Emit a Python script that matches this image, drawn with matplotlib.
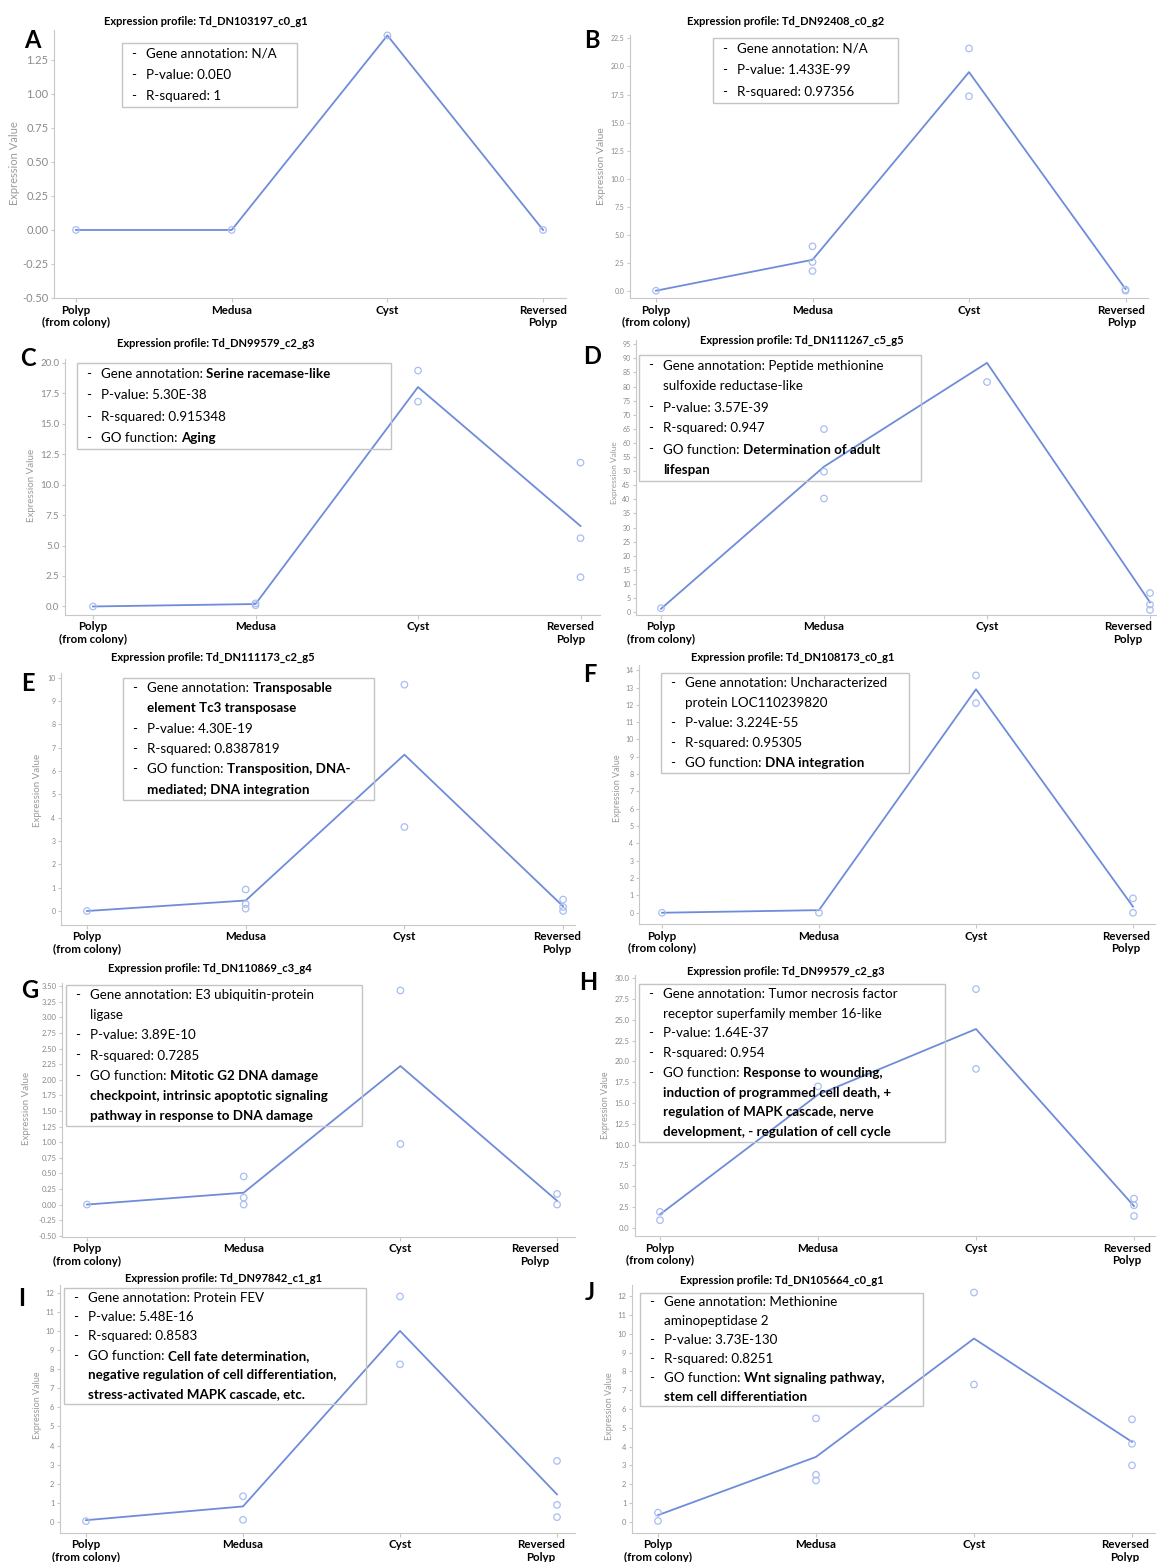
import matplotlib
matplotlib.use("Agg")
import matplotlib.pyplot as plt
from matplotlib.patches import Rectangle
from matplotlib.ticker import FormatStrFormatter, MultipleLocator
from matplotlib.transforms import ScaledTranslation

plt.rcParams['font.family'] = ['Lato', 'DejaVu Sans']
plt.rcParams['axes.unicode_minus'] = False

W, H = 1157, 1562
LINE_C = '#6f8cdb'
DOT_C = '#a9bdf2'

stages = ["Polyp\n(from colony)", "Medusa", "Cyst", "Reversed\nPolyp"]

# mean profile (line) and replicate values (open circles) per panel
mean_a = [0.0, 0.0, 1.43, 0.0]
reps_a = [[0.0], [0.0], [1.43], [0.0]]
mean_b = [0.05, 2.8, 19.5, 0.2]
reps_b = [[0.05], [4.0, 2.6, 1.8], [21.6, 17.35], [0.05, 0.15]]
mean_c = [0.0, 0.2, 18.0, 6.6]
reps_c = [[0.0], [0.25, 0.1], [19.35, 16.8], [11.8, 5.6, 2.4]]
mean_d = [1.2, 51.6, 88.4, 3.5]
reps_d = [[1.4], [64.9, 49.8, 40.3], [81.6], [6.8, 2.7, 0.8]]
mean_e = [0.0, 0.45, 6.7, 0.2]
reps_e = [[0.0], [0.92, 0.3, 0.1], [9.7, 3.6], [0.49, 0.17, 0.0]]
mean_f = [0.0, 0.15, 12.9, 0.35]
reps_f = [[0.0], [0.0], [13.7, 12.1], [0.83, 0.0]]
mean_g = [0.0, 0.19, 2.22, 0.06]
reps_g = [[0.0], [0.45, 0.11, 0.0], [3.43, 0.97], [0.17, 0.0]]
mean_h = [1.6, 16.0, 23.9, 2.6]
reps_h = [[1.9, 0.9], [17.0], [28.7, 19.1], [3.5, 2.7, 1.4]]
mean_i = [0.1, 0.82, 10.0, 1.45]
reps_i = [[0.05], [1.35, 0.12], [11.8, 8.25], [3.2, 0.9, 0.26]]
mean_j = [0.35, 3.45, 9.75, 4.25]
reps_j = [[0.48, 0.04], [5.5, 2.5, 2.2], [12.2, 7.3], [5.45, 4.15, 3.0]]

# annotation lines: (dash, regular text, bold text)
notes_a = [(True, "Gene annotation: N/A", ""), (True, "P-value: 0.0E0", ""),
           (True, "R-squared: 1", "")]
notes_b = [(True, "Gene annotation: N/A", ""), (True, "P-value: 1.433E-99", ""),
           (True, "R-squared: 0.97356", "")]
notes_c = [(True, "Gene annotation: ", "Serine racemase-like"),
           (True, "P-value: 5.30E-38", ""), (True, "R-squared: 0.915348", ""),
           (True, "GO function: ", "Aging")]
notes_d = [(True, "Gene annotation: Peptide methionine", ""),
           (False, "sulfoxide reductase-like", ""),
           (True, "P-value: 3.57E-39", ""), (True, "R-squared: 0.947", ""),
           (True, "GO function: ", "Determination of adult"),
           (False, "", "lifespan")]
notes_e = [(True, "Gene annotation: ", "Transposable"),
           (False, "", "element Tc3 transposase"),
           (True, "P-value: 4.30E-19", ""), (True, "R-squared: 0.8387819", ""),
           (True, "GO function: ", "Transposition, DNA-"),
           (False, "", "mediated; DNA integration")]
notes_f = [(True, "Gene annotation: Uncharacterized", ""),
           (False, "protein LOC110239820", ""),
           (True, "P-value: 3.224E-55", ""), (True, "R-squared: 0.95305", ""),
           (True, "GO function: ", "DNA integration")]
notes_g = [(True, "Gene annotation: E3 ubiquitin-protein", ""),
           (False, "ligase", ""),
           (True, "P-value: 3.89E-10", ""), (True, "R-squared: 0.7285", ""),
           (True, "GO function: ", "Mitotic G2 DNA damage"),
           (False, "", "checkpoint, intrinsic apoptotic signaling"),
           (False, "", "pathway in response to DNA damage")]
notes_h = [(True, "Gene annotation: Tumor necrosis factor", ""),
           (False, "receptor superfamily member 16-like", ""),
           (True, "P-value: 1.64E-37", ""), (True, "R-squared: 0.954", ""),
           (True, "GO function: ", "Response to wounding,"),
           (False, "", "induction of programmed cell death, +"),
           (False, "", "regulation of MAPK cascade, nerve"),
           (False, "", "development, - regulation of cell cycle")]
notes_i = [(True, "Gene annotation: Protein FEV", ""),
           (True, "P-value: 5.48E-16", ""), (True, "R-squared: 0.8583", ""),
           (True, "GO function: ", "Cell fate determination,"),
           (False, "", "negative regulation of cell differentiation,"),
           (False, "", "stress-activated MAPK cascade, etc.")]
notes_j = [(True, "Gene annotation: Methionine", ""),
           (False, "aminopeptidase 2", ""),
           (True, "P-value: 3.73E-130", ""), (True, "R-squared: 0.8251", ""),
           (True, "GO function: ", "Wnt signaling pathway,"),
           (False, "", "stem cell differentiation")]

genes = ["Td_DN103197_c0_g1", "Td_DN92408_c0_g2", "Td_DN99579_c2_g3",
         "Td_DN111267_c5_g5", "Td_DN111173_c2_g5", "Td_DN108173_c0_g1",
         "Td_DN110869_c3_g4", "Td_DN99579_c2_g3", "Td_DN97842_c1_g1",
         "Td_DN105664_c0_g1"]
letters = list("ABCDEFGHIJ")

# layout in pixels: polyp tick x, spacing, left, right, top, bottom
panels = [
    dict(mean=mean_a, reps=reps_a, notes=notes_a, ylim=(-0.5, 1.47), step=0.25,
         fmt='%.2f', geo=(76, 155.7, 54, 566, 30, 298), tfs=8, box=(122, 43, 297, 107),
         title=(206, 21), letter=(32, 40), ylab=(15, 163), lfs=8, shift=0),
    dict(mean=mean_b, reps=reps_b, notes=notes_b, ylim=(-0.6, 22.8), step=2.5,
         fmt='%.1f', geo=(656, 156.5, 630, 1148, 35, 298), tfs=5, box=(713, 38, 898, 103),
         title=(786, 21), letter=(592, 40), ylab=(601, 166), lfs=7.5, shift=-4),
    dict(mean=mean_c, reps=reps_c, notes=notes_c, ylim=(-0.7, 20.3), step=2.5,
         fmt='%.1f', geo=(93, 162.5, 65, 600, 359, 615), tfs=7, box=(77, 363, 391, 449),
         title=(216, 343), letter=(28, 358), ylab=(31, 485), lfs=7, shift=-10),
    dict(mean=mean_d, reps=reps_d, notes=notes_d, ylim=(-1, 96.5), step=5,
         fmt='%d', geo=(661, 163, 636, 1157, 340, 615), tfs=5, box=(639, 355, 921, 481),
         title=(802, 340), letter=(592, 357), ylab=(614, 473), lfs=6, shift=-22),
    dict(mean=mean_e, reps=reps_e, notes=notes_e, ylim=(-0.6, 10.2), step=1,
         fmt='%d', geo=(87, 158.7, 61, 575, 673, 925), tfs=5, box=(123, 678, 374, 800),
         title=(213, 657), letter=(28, 683), ylab=(38, 790), lfs=7, shift=-6),
    dict(mean=mean_f, reps=reps_f, notes=notes_f, ylim=(-0.65, 14.3), step=1,
         fmt='%d', geo=(662, 157, 639, 1155, 665, 924), tfs=5, box=(661, 673, 909, 773),
         title=(793, 657), letter=(590, 675), ylab=(617, 788), lfs=6.5, shift=-7),
    dict(mean=mean_g, reps=reps_g, notes=notes_g, ylim=(-0.52, 3.55), step=0.25,
         fmt='%.2f', geo=(87, 156.7, 62, 575, 983, 1237), tfs=5.5, box=(66, 985, 362, 1126),
         title=(210, 968), letter=(30, 990), ylab=(27, 1108), lfs=7, shift=-22),
    dict(mean=mean_h, reps=reps_h, notes=notes_h, ylim=(-1.0, 30.4), step=2.5,
         fmt='%.1f', geo=(660, 158, 635, 1155, 975, 1236), tfs=5.5, box=(639, 984, 945, 1142),
         title=(786, 971), letter=(588, 983), ylab=(605, 1105), lfs=6.5, shift=-7),
    dict(mean=mean_i, reps=reps_i, notes=notes_i, ylim=(-0.57, 12.4), step=1,
         fmt='%d', geo=(86, 157, 60, 575, 1285, 1533), tfs=5.5, box=(64, 1288, 366, 1404),
         title=(224, 1278), letter=(22, 1298), ylab=(38, 1405), lfs=6.5, shift=-16),
    dict(mean=mean_j, reps=reps_j, notes=notes_j, ylim=(-0.6, 12.6), step=1,
         fmt='%d', geo=(658, 158, 632, 1155, 1285, 1533), tfs=5.5, box=(640, 1293, 923, 1406),
         title=(782, 1280), letter=(590, 1293), ylab=(609, 1406), lfs=6.5, shift=-7),
]

fig = plt.figure(figsize=(W / 100, H / 100), dpi=100)
renderer = fig.canvas.get_renderer()


def fx(x):
    return x / W


def fy(y):
    return 1 - y / H


def note_box(box, lines, fs=9.6):
    left, top, right, bottom = box
    fig.patches.append(Rectangle((fx(left), fy(bottom)), (right - left) / W, (bottom - top) / H,
                                 transform=fig.transFigure, fill=False, ec='#c4c4c4', lw=1.0,
                                 zorder=5))
    lh = (bottom - top) / len(lines)
    for i, (dash, reg, bold) in enumerate(lines):
        y = fy(top + (i + 0.5) * lh)
        if dash:
            fig.text(fx(left + 9), y, "-", fontsize=fs, va='center', zorder=6)
        x = left + 24
        if reg:
            t = fig.text(fx(x), y, reg, fontsize=fs, va='center', zorder=6)
            x += t.get_window_extent(renderer).width
        if bold:
            fig.text(fx(x), y, bold, fontsize=fs, va='center', fontweight='bold', zorder=6)


for k, p in enumerate(panels):
    p0, s, L, R, T, B = p['geo']
    ax = fig.add_axes([fx(L), fy(B), (R - L) / W, (B - T) / H])
    ax.set_xlim((L - p0) / s, (R - p0) / s)

    ax.plot(range(len(stages)), p['mean'], color=LINE_C, lw=1.3, zorder=3)
    for i, vals in enumerate(p['reps']):
        ax.scatter([i] * len(vals), vals, s=22, facecolors='none', edgecolors=DOT_C,
                   linewidths=0.9, zorder=4)

    ax.set_xticks(range(len(stages)))
    ax.set_xticklabels([])
    # stage names under the ticks; the last one sits a little left in the original
    for i, name in enumerate(stages):
        dx = p['shift'] if i == len(stages) - 1 else 0
        tr = ax.get_xaxis_transform() + ScaledTranslation(dx / 100, -0.065,
                                                          fig.dpi_scale_trans)
        ax.text(i, 0, name, transform=tr, ha='center', va='top', ma='center',
                fontweight='bold', fontsize=8.3, linespacing=1.15, clip_on=False)
    ax.yaxis.set_major_locator(MultipleLocator(p['step']))
    ax.yaxis.set_major_formatter(FormatStrFormatter(p['fmt']))
    ax.set_ylim(*p['ylim'])
    ax.spines[['top', 'right']].set_visible(False)
    ax.spines[['left', 'bottom']].set_color('#c8c8c8')
    ax.tick_params(axis='x', color='#c8c8c8', length=3)
    ax.tick_params(axis='y', color='#c8c8c8', labelcolor='#8a8a8a', length=2,
                   labelsize=p['tfs'], pad=2)
    ax.patch.set_alpha(0)

    fig.text(fx(p['ylab'][0]), fy(p['ylab'][1]), "Expression Value", rotation=90,
             color='#9a9a9a', fontsize=p['lfs'], ha='center', va='center')
    fig.text(fx(p['title'][0]), fy(p['title'][1]), "Expression profile: " + genes[k],
             fontsize=8, fontweight='bold', ha='center', va='center')
    fig.text(fx(p['letter'][0]), fy(p['letter'][1]), letters[k], fontsize=17,
             fontweight='bold', ha='center', va='center')
    note_box(p['box'], p['notes'])

fig.savefig('out.png', dpi=100, facecolor='white')
